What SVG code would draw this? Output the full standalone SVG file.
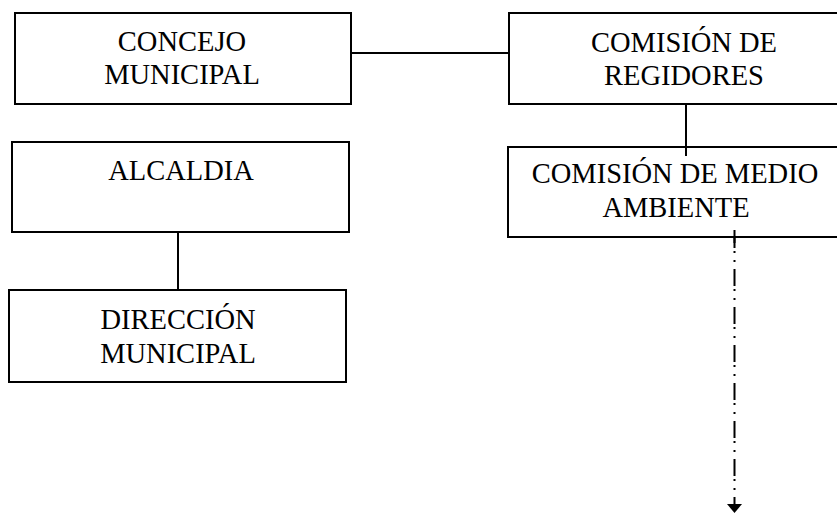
<svg xmlns="http://www.w3.org/2000/svg" width="837" height="513" viewBox="0 0 837 513">
<style>
.box{fill:#fff;stroke:#000;stroke-width:2}
.t{font-family:"Liberation Serif","Times New Roman",serif;font-size:28.5px;fill:#000;text-anchor:middle}
.ln{stroke:#000;stroke-width:2;fill:none}
.dash{stroke:#000;stroke-width:2;fill:none;stroke-dasharray:17 3 2 7 2 7}
</style>
<rect width="837" height="513" fill="#fff"/>
<g id="connectors">
<line class="ln" x1="351" y1="53" x2="509" y2="53"/>
<line class="ln" x1="686" y1="104" x2="686" y2="156"/>
<line class="ln" x1="178" y1="232" x2="178" y2="290"/>
<line class="dash" x1="734.5" y1="231" x2="734.5" y2="505"/>
<polygon points="727,504 742,504 734.5,513" fill="#000"/>
</g>
<g id="concejo">
<rect class="box" x="15" y="13" width="336" height="91"/>
<text class="t" x="182" y="51">CONCEJO</text>
<text class="t" x="182" y="84">MUNICIPAL</text>
</g>
<g id="regidores">
<rect class="box" x="509" y="13" width="340" height="91"/>
<text class="t" x="684" y="52">COMISIÓN DE</text>
<text class="t" x="684" y="85">REGIDORES</text>
</g>
<g id="alcaldia">
<rect class="box" x="12" y="142" width="337" height="90"/>
<text class="t" x="181" y="180">ALCALDIA</text>
</g>
<g id="medio-ambiente">
<rect class="box" x="508" y="147" width="340" height="90"/>
<text class="t" x="675" y="183">COMISIÓN DE MEDIO</text>
<text class="t" x="676" y="217">AMBIENTE</text>
</g>
<line class="ln" x1="734.5" y1="230" x2="734.5" y2="243"/>
<line class="ln" x1="686" y1="146" x2="686" y2="156"/>
<g id="direccion">
<rect class="box" x="9" y="290" width="337" height="92"/>
<text class="t" x="178" y="329">DIRECCIÓN</text>
<text class="t" x="178" y="363">MUNICIPAL</text>
</g>
</svg>
